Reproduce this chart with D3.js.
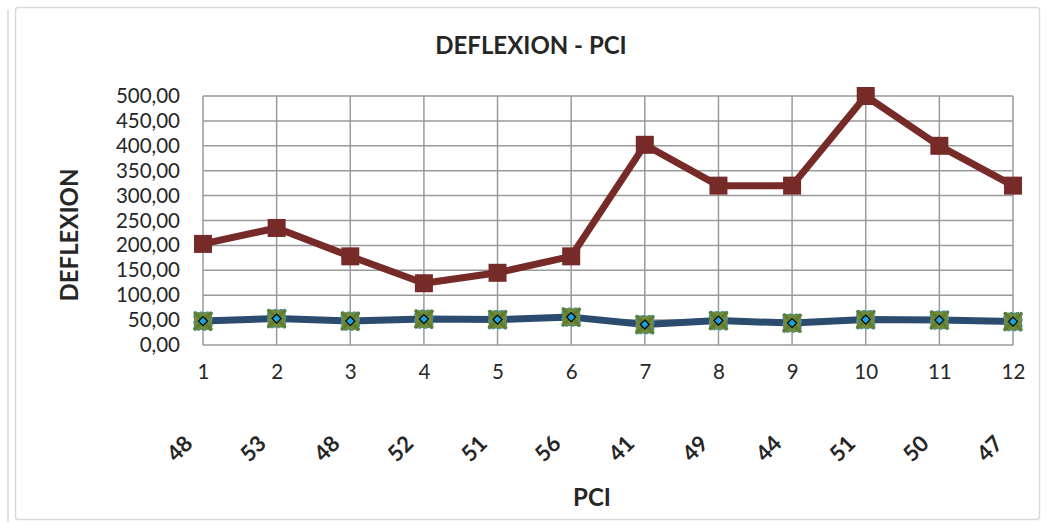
<!DOCTYPE html>
<html>
<head>
<meta charset="utf-8">
<script src="https://cdn.jsdelivr.net/npm/d3@7"></script>
<style>
  html, body { margin: 0; padding: 0; background: #ffffff; }
  svg { display: block; }
  text { font-family: Lato, "Open Sans", sans-serif; fill: #262626; }
</style>
</head>
<body>
<svg id="chart" width="1048" height="528"></svg>
<script>
// Sample index (category axis, level 1)
const samples = ["1", "2", "3", "4", "5", "6", "7", "8", "9", "10", "11", "12"];
// PCI per sample (category axis, level 2, also plotted)
const pci = [48, 53, 48, 52, 51, 56, 41, 49, 44, 51, 50, 47];
// Measured deflexion per sample
const deflexion = [203, 235, 178, 124, 145, 178, 402, 320, 320, 500, 400, 320];
// Value axis ticks
const yTicks = [0, 50, 100, 150, 200, 250, 300, 350, 400, 450, 500];

const svg = d3.select("#chart");
const plot = { left: 203, right: 1013, top: 96, bottom: 345 };

// chart frame
svg.append("line").attr("x1", 8).attr("x2", 8).attr("y1", 10).attr("y2", 522)
  .attr("stroke", "#d9d9d9").attr("stroke-width", 1.5);
svg.append("rect").attr("x", 15.5).attr("y", 7.5).attr("width", 1024).attr("height", 512)
  .attr("rx", 3).attr("fill", "#fff").attr("stroke", "#d9d9d9").attr("stroke-width", 1.5);

const x = d3.scalePoint().domain(samples).range([plot.left, plot.right]);
const y = d3.scaleLinear().domain([0, 500]).range([plot.bottom, plot.top]);

const fmt = v => d3.format(".2f")(v).replace(".", ",");

// gridlines
const grid = svg.append("g").attr("stroke", "#9a9a9a").attr("stroke-width", 1.5);
yTicks.forEach(t => grid.append("line")
  .attr("x1", plot.left).attr("x2", plot.right).attr("y1", y(t)).attr("y2", y(t)));
samples.forEach(s => grid.append("line")
  .attr("x1", x(s)).attr("x2", x(s)).attr("y1", plot.top).attr("y2", plot.bottom));

// value axis labels
const yAxis = d3.axisLeft(y).tickValues(yTicks).tickFormat(fmt).tickSize(0).tickPadding(0);
const yg = svg.append("g").attr("transform", `translate(${plot.left - 23},0)`).call(yAxis);
yg.select(".domain").remove();
yg.selectAll("text").attr("font-size", 20.5).attr("fill", "#333")
  .style("font-family", "Lato, sans-serif");

// category axis labels (level 1)
const xAxis = d3.axisBottom(x).tickSize(0).tickPadding(0);
const xg = svg.append("g").attr("transform", `translate(0,${plot.bottom + 19})`).call(xAxis);
xg.select(".domain").remove();
xg.selectAll("text").attr("font-size", 20.5).attr("fill", "#333")
  .style("font-family", "Lato, sans-serif");

// category axis labels (level 2, rotated PCI values)
svg.append("g").selectAll("text").data(pci).join("text")
  .attr("transform", (d, i) => `translate(${x(samples[i]) - 13},441) rotate(-45)`)
  .attr("text-anchor", "end").attr("dominant-baseline", "middle")
  .attr("font-size", 22).attr("font-weight", "bold").attr("fill", "#1a1a1a")
  .text(d => d);

// title and axis titles
svg.append("text").attr("x", 531).attr("y", 54).attr("text-anchor", "middle")
  .attr("font-size", 24).attr("font-weight", "bold").text("DEFLEXION - PCI");
svg.append("text").attr("transform", "translate(78,235) rotate(-90)")
  .attr("text-anchor", "middle").attr("font-size", 24).attr("font-weight", "bold")
  .text("DEFLEXION");
svg.append("text").attr("x", 592).attr("y", 506).attr("text-anchor", "middle")
  .attr("font-size", 24).attr("font-weight", "bold").text("PCI");

const line = d3.line().x((d, i) => x(samples[i])).y(d => y(d));

// PCI series
svg.append("path").datum(pci).attr("d", line).attr("fill", "none")
  .attr("stroke", "#2b4c6f").attr("stroke-width", 7).attr("stroke-linejoin", "round");
const pg = svg.append("g");
pci.forEach((v, i) => {
  const cx = x(samples[i]), cy = y(v);
  pg.append("rect").attr("x", cx - 9).attr("y", cy - 9).attr("width", 18).attr("height", 18)
    .attr("fill", "#6f8a3a").attr("stroke", "#3f8fc0").attr("stroke-width", 1.2)
    .attr("stroke-dasharray", "3,3");
  pg.append("path").attr("d", `M${cx - 9},${cy - 9}L${cx + 9},${cy + 9}M${cx + 9},${cy - 9}L${cx - 9},${cy + 9}`)
    .attr("stroke", "#5f7d30").attr("stroke-width", 3);
  pg.append("path").attr("d", `M${cx},${cy - 4.5}L${cx + 4.5},${cy}L${cx},${cy + 4.5}L${cx - 4.5},${cy}Z`)
    .attr("fill", "#1da1e0").attr("stroke", "#0a0a0a").attr("stroke-width", 1.3);
});

// deflexion series
svg.append("path").datum(deflexion).attr("d", line).attr("fill", "none")
  .attr("stroke", "#772b29").attr("stroke-width", 7).attr("stroke-linejoin", "round");
svg.append("g").selectAll("rect").data(deflexion).join("rect")
  .attr("x", (d, i) => x(samples[i]) - 9).attr("y", d => y(d) - 9)
  .attr("width", 18).attr("height", 18).attr("fill", "#772b29");
</script>
</body>
</html>
